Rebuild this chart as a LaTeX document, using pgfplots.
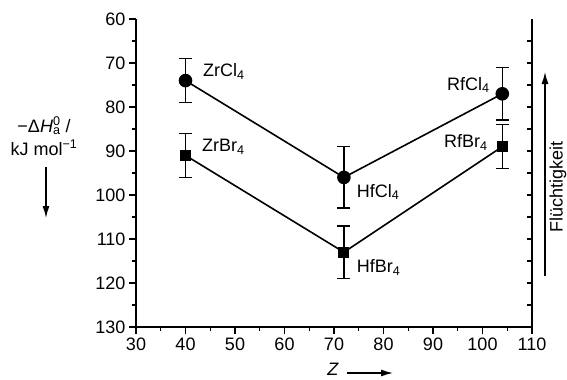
\documentclass[border=0pt]{standalone}
\usepackage{fontspec}
\setmainfont{Liberation Sans}
\usepackage{pgfplots}
\pgfplotsset{compat=1.18}
\usetikzlibrary{arrows.meta}

\begin{document}
\begin{tikzpicture}[x=1bp,y=1bp]
\path[use as bounding box] (0,0) rectangle (567,379);
\pgfplotsset{
  frame/.style={
    scale only axis, width=396bp, height=308bp,
    at={(136bp,52bp)}, anchor=south west,
    xmin=30, xmax=110, ymin=60, ymax=130, y dir=reverse,
    axis line style={-, line width=1.8bp},
    tick style={line width=1.3bp, black},
    ticklabel style={font=\fontsize{18bp}{20bp}\selectfont},
    /pgf/number format/assume math mode=true,
    clip=false,
  }
}
% right-hand axis line with inward ticks only
\begin{axis}[frame,
  hide x axis, axis y line*=right,
  ytick={65,70,...,125}, yticklabels={},
  tick align=inside, major tick length=5bp]
\end{axis}
\begin{axis}[frame,
  axis x line*=bottom, axis y line*=left,
  xtick={30,40,...,110}, minor x tick num=1,
  ytick={60,70,...,130}, minor y tick num=1,
  tick align=outside,
  major tick length=7bp, minor tick length=4bp,
  every axis plot/.append style={black, line width=1.6bp},
  err/.style={error bars/.cd, y dir=both, y explicit,
    error bar style={line width=1.5bp},
    error mark options={rotate=90, mark size=6.5bp, line width=1.5bp, black}},
]
% chlorides
\addplot[mark=*, mark size=6bp, err] coordinates {
  (40,74)  +- (0,5)
  (72,96)  +- (0,7)
  (104,77) +- (0,6)
};
% bromides
\addplot[mark=square*, mark size=4.7bp, err] coordinates {
  (40,91)  +- (0,5)
  (72,113) +- (0,6)
  (104,89) +- (0,5)
};
\begin{scope}[every node/.style={font=\fontsize{18bp}{20bp}\selectfont, inner sep=0pt}]
\node[anchor=west] at (axis cs:43.5,72) {ZrCl\textsubscript{4}};
\node[anchor=west] at (axis cs:43.3,89) {ZrBr\textsubscript{4}};
\node[anchor=west] at (axis cs:74.6,99.3) {HfCl\textsubscript{4}};
\node[anchor=west] at (axis cs:74.6,116.4) {HfBr\textsubscript{4}};
\node[anchor=east] at (axis cs:101.5,75) {RfCl\textsubscript{4}};
\node[anchor=east] at (axis cs:101.1,88) {RfBr\textsubscript{4}};
\end{scope}
\end{axis}
% axis descriptions with direction arrows
\begin{scope}[every node/.style={font=\fontsize{18bp}{20bp}\selectfont, inner sep=0pt},
  arr/.style={line width=1.3bp, -{Latex[length=12bp, width=7bp]}}]
\node[anchor=base] at (44,247) {−Δ\textit{H}\rlap{\textsuperscript{0}}\textsubscript{a}\ /};
\node[anchor=base] at (44,224) {kJ mol\textsuperscript{−1}};
\draw[arr] (46,212) -- (46,161);
\node[anchor=base] at (333,4) {\textit{Z}};
\draw[arr] (347,6) -- (393,6);
\draw[arr] (545,103) -- (545,307);
\node[rotate=90] at (558,192) {Flüchtigkeit};
\end{scope}
\end{tikzpicture}
\end{document}
